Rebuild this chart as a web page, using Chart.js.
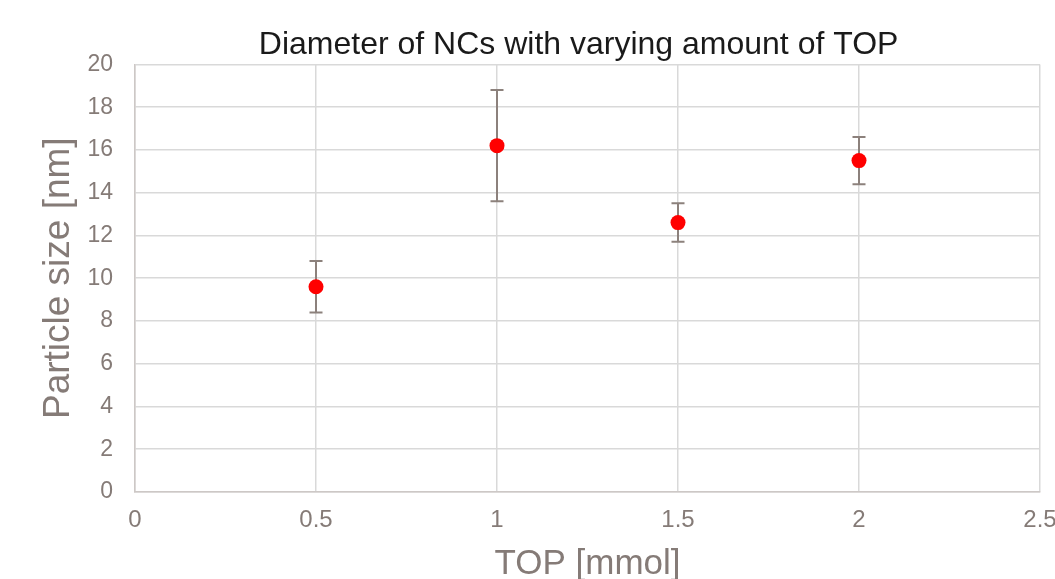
<!DOCTYPE html>
<html>
<head>
    <title>Diameter of NCs</title>
    <script src="https://cdn.jsdelivr.net/npm/chart.js"></script>
    <style>
        html, body { margin: 0; padding: 0; background: #fff; overflow: hidden; }
        #wrap { width: 1055px; height: 579px; overflow: hidden; position: relative; }
        #wrap canvas { position: absolute; left: 0; top: 0; }
    </style>
</head>
<body>
    <div id="wrap">
        <!-- canvas is larger than the window so the right tick and x title get cut like the original -->
        <canvas id="myChart" width="1153" height="600"></canvas>
    </div>

    <script>
        // values
        const topMmol = [0.5, 1, 1.5, 2];
        const sizeNm = [9.6, 16.2, 12.6, 15.5];
        const sizeErr = [1.2, 2.6, 0.9, 1.1];

        const greyText = '#857b77';
        const font = 'Liberation Sans, Arial, sans-serif';

        // draws the y error bars through the chart scales
        const errorBars = {
            id: 'errorBars',
            beforeDatasetsDraw(chart) {
                const ctx = chart.ctx;
                const xs = chart.scales.x, ys = chart.scales.y;
                ctx.save();
                ctx.strokeStyle = '#8c817c';
                ctx.lineWidth = 2;
                topMmol.forEach((x, i) => {
                    const px = xs.getPixelForValue(x);
                    const hi = ys.getPixelForValue(sizeNm[i] + sizeErr[i]);
                    const lo = ys.getPixelForValue(sizeNm[i] - sizeErr[i]);
                    ctx.beginPath();
                    ctx.moveTo(px, hi); ctx.lineTo(px, lo);
                    ctx.moveTo(px - 6.5, hi); ctx.lineTo(px + 6.5, hi);
                    ctx.moveTo(px - 6.5, lo); ctx.lineTo(px + 6.5, lo);
                    ctx.stroke();
                });
                ctx.restore();
            }
        };

        const ctx = document.getElementById('myChart').getContext('2d');
        const myChart = new Chart(ctx, {
            type: 'scatter',
            data: {
                datasets: [{
                    label: 'Particle size',
                    data: topMmol.map((x, i) => ({ x: x, y: sizeNm[i] })),
                    backgroundColor: '#ff0000',
                    borderColor: '#ff0000',
                    pointRadius: 7.5,
                    pointBorderWidth: 0
                }]
            },
            options: {
                responsive: false,
                animation: false,
                layout: { padding: { left: 0, right: 113, top: 0, bottom: 0 } },
                plugins: {
                    legend: { display: false },
                    tooltip: { enabled: false },
                    title: {
                        display: true,
                        fullSize: false,
                        // trailing spaces nudge the centred title a little left, as in the original
                        text: 'Diameter of NCs with varying amount of TOP\u00a0\u00a0',
                        color: '#1a1a1a',
                        font: { family: font, size: 32, weight: 'normal' },
                        padding: { top: 26, bottom: 0 }
                    }
                },
                scales: {
                    x: {
                        type: 'linear',
                        min: 0, max: 2.5,
                        ticks: {
                            stepSize: 0.5, color: greyText, font: { family: font, size: 24 }, padding: 14,
                            callback: v => String(v)
                        },
                        grid: { color: '#d9d9d9', lineWidth: 1.5, drawTicks: false },
                        border: { color: '#cdc8c6', width: 1.5 },
                        title: {
                            display: true,
                            text: 'TOP [mmol]',
                            color: greyText,
                            font: { family: font, size: 35 },
                            padding: { top: 0, bottom: 15 }
                        },
                        afterFit: s => { s.height = 108; }
                    },
                    y: {
                        min: 0, max: 20,
                        ticks: { stepSize: 2, color: greyText, font: { family: font, size: 23 }, padding: 22 },
                        grid: { color: '#d9d9d9', lineWidth: 1.5, drawTicks: false },
                        border: { color: '#cdc8c6', width: 1.5 },
                        title: {
                            display: true,
                            text: 'Particle size [nm]',
                            color: greyText,
                            font: { family: font, size: 37 },
                            padding: { top: 37, bottom: 0 }
                        },
                        afterFit: s => { s.width = 135; }
                    }
                }
            },
            plugins: [errorBars]
        });
    </script>
</body>
</html>
